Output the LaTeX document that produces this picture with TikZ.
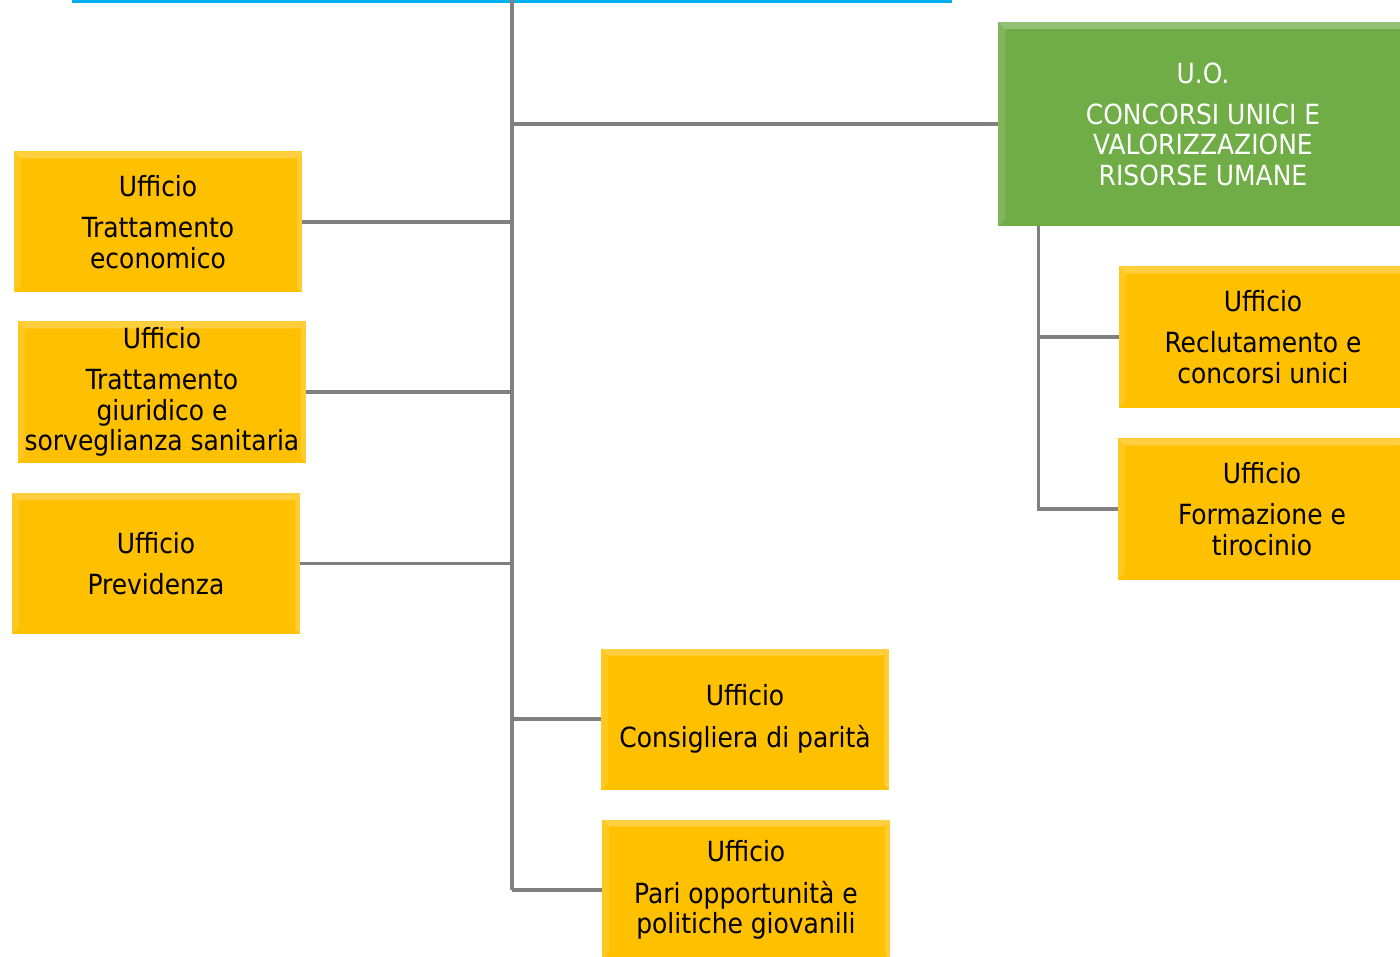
\documentclass[tikz,border=0pt]{standalone}
\usepackage{fontspec}
\setmainfont{DejaVu Sans Condensed}
\definecolor{ufficiogold}{HTML}{FFC000}
\definecolor{uogreen}{HTML}{70AD47}
\definecolor{linkgray}{HTML}{808080}
\definecolor{topblue}{HTML}{00B0F0}
\tikzset{
  bevel/.style={path picture={
      \fill[white,opacity=0.25] (path picture bounding box.north west) -- (path picture bounding box.north east)
        -- ([shift={(-1.4mm,-1.4mm)}]path picture bounding box.north east) -- ([shift={(1.4mm,-1.4mm)}]path picture bounding box.north west) -- cycle;
      \fill[white,opacity=0.12] (path picture bounding box.north west) -- ([shift={(1.4mm,-1.4mm)}]path picture bounding box.north west)
        -- ([shift={(1.4mm,1.4mm)}]path picture bounding box.south west) -- (path picture bounding box.south west) -- cycle;
      \fill[white,opacity=0.2] (path picture bounding box.north east) -- ([shift={(-1mm,-1mm)}]path picture bounding box.north east)
        -- ([shift={(-1mm,1mm)}]path picture bounding box.south east) -- (path picture bounding box.south east) -- cycle;}},
  ufficio/.style={rectangle, fill=ufficiogold, bevel, minimum width=57.6mm, minimum height=28.2mm,
    align=center, inner sep=0pt, font=\fontsize{15.8}{17.3}\selectfont, text=black},
  uo/.style={ufficio, fill=uogreen, minimum width=82mm, minimum height=40.8mm, text=white},
  link/.style={draw=linkgray, line width=2pt},
}

\begin{document}
\begin{tikzpicture}[x=0.2mm,y=-0.2mm]
        \useasboundingbox (0,0) rectangle (1400,957);
        \clip (0,0) rectangle (1400,957);

        \coordinate (bluel) at (72,1);
        \coordinate (bluer) at (952,1);
        \coordinate (trunktop) at (512,0);
        \coordinate (trunkbot) at (512,890);
        \draw[topblue, line width=1.8pt] (bluel) -- (bluer);

        \node[uo] (concorsi) at (1203,124) {U.O.\\[2.2mm]CONCORSI UNICI E\\VALORIZZAZIONE\\RISORSE UMANE};
        \node[ufficio] (economico) at (158,222) {Ufficio\\[2.2mm]Trattamento\\economico};
        \node[ufficio] (giuridico) at (162,392) {Ufficio\\[2.2mm]Trattamento\\giuridico e\\sorveglianza sanitaria};
        \node[ufficio] (previdenza) at (156,563.5) {Ufficio\\[2.2mm]Previdenza};
        \node[ufficio] (consigliera) at (745,719) {Ufficio\\[2.2mm]Consigliera di parità};
        \node[ufficio] (pari) at (746,890) {Ufficio\\[2.2mm]Pari opportunità e\\politiche giovanili};
        \node[ufficio] (reclutamento) at (1263,337) {Ufficio\\[2.2mm]Reclutamento e\\concorsi unici};
        \node[ufficio] (formazione) at (1262,509) {Ufficio\\[2.2mm]Formazione e\\tirocinio};

        \coordinate (subtop) at ([xshift=8.2mm]concorsi.south west);

        \draw[link] (trunktop) -- (trunkbot);
        \draw[link] (trunktop |- concorsi.west) -- (concorsi.west);
        \draw[link] (economico.east) -- (economico.east -| trunktop);
        \draw[link] (giuridico.east) -- (giuridico.east -| trunktop);
        \draw[link] (previdenza.east) -- (previdenza.east -| trunktop);
        \draw[link] (consigliera.west -| trunktop) -- (consigliera.west);
        \draw[link] (pari.west -| trunktop) -- (pari.west);
        \draw[link] (subtop) |- (formazione.west);
        \draw[link] (subtop |- reclutamento.west) -- (reclutamento.west);

\end{tikzpicture}
\end{document}
